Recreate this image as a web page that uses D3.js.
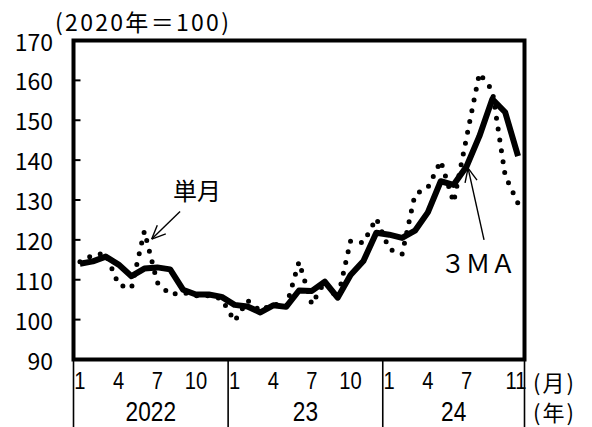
<!DOCTYPE html>
<html>
<head>
<meta charset="utf-8">
<script src="https://cdn.jsdelivr.net/npm/d3@7"></script>
<style>
  body { margin: 0; background: #fff; }
  svg text { font-family: "Noto Sans CJK JP", sans-serif; fill: #000; }
  svg text.axis-digit { font-family: "Liberation Sans", "Noto Sans CJK JP", sans-serif; }
</style>
</head>
<body>
<svg id="chart"></svg>
<script>
// months Jan 2022 - Nov 2024
const periods = [
    '2022/1', '2022/2', '2022/3', '2022/4', '2022/5', '2022/6', '2022/7', '2022/8', '2022/9', '2022/10', '2022/11', '2022/12',
    '2023/1', '2023/2', '2023/3', '2023/4', '2023/5', '2023/6', '2023/7', '2023/8', '2023/9', '2023/10', '2023/11', '2023/12',
    '2024/1', '2024/2', '2024/3', '2024/4', '2024/5', '2024/6', '2024/7', '2024/8', '2024/9', '2024/10', '2024/11'
];

// 単月 (dotted)
const monthlyValues = [
    114.5, 116.2, 116.6, 108.7, 107.9, 122.2, 109.3, 106.3, 106.8, 106.0, 106.0, 105.2,
    99.6, 104.8, 102.2, 104.0, 103.2, 114.5, 103.8, 109.6, 105.2, 119.7, 119.3, 125.4,
    117.7, 116.4, 131.4, 133.1, 139.8, 129.4, 145.6, 161.8, 157.5, 136.1, 129.1
];

// 3MA (solid)
const ma3Values = [
    114.0, 114.6, 115.8, 113.8, 110.9, 112.8, 113.1, 112.6, 107.5, 106.3, 106.3, 105.7,
    103.7, 103.3, 101.8, 103.6, 103.2, 107.3, 107.2, 109.5, 105.5, 111.2, 114.7, 121.8,
    121.3, 120.5, 122.3, 126.9, 134.7, 133.8, 138.4, 146.0, 155.3, 152.0, 141.0
];

const monthTicks = ['2022/1', '2022/4', '2022/7', '2022/10', '2023/1', '2023/4', '2023/7', '2023/10', '2024/1', '2024/4', '2024/7', '2024/11'];
const monthTickLabels = ['1', '4', '7', '10', '1', '4', '7', '10', '1', '4', '7', '11'];
const years = ['2022', '2023', '2024'];
const yearLabels = ['2022', '23', '24'];
const yTicks = [90, 100, 110, 120, 130, 140, 150, 160, 170];

class IndexChart {

    constructor(_config) {
        this.config = {
            parentElement: _config.parentElement,
            containerWidth: 592,
            containerHeight: 427,
            plot: { left: 73.5, right: 524.5, top: 40.5, bottom: 359.5 },
            fontSize: 23,
            // the x axis labels use a narrow face, squeeze the glyphs
            squeeze: 0.84
        }
        this.initVis();
    }

    initVis() {
        let vis = this;
        let p = vis.config.plot;

        vis.svg = d3.select(vis.config.parentElement)
            .attr('width', vis.config.containerWidth)
            .attr('height', vis.config.containerHeight);

        vis.xScale = d3.scalePoint()
            .domain(periods)
            .range([p.left, p.right])
            .padding(0.5);

        vis.yScale = d3.scaleLinear()
            .domain([90, 170])
            .range([p.bottom, p.top]);

        // fractional month position, used for the annotations
        vis.xIndex = d3.scaleLinear()
            .domain([0, periods.length - 1])
            .range([vis.xScale(periods[0]), vis.xScale(periods[periods.length - 1])]);

        vis.renderVis();
    }

    renderVis() {
        let vis = this;
        let p = vis.config.plot;
        let step = vis.xScale.step();
        let sq = vis.config.squeeze;

        // annotation arrows (under the lines)
        vis.drawArrow({ i: 7.77, v: 127.1 }, { i: 5.57, v: 120.2 });
        vis.drawArrow({ i: 31.36, v: 120.0 }, { i: 30.12, v: 138.0 });

        vis.svg.append('text')
            .attr('x', vis.xIndex(9.09))
            .attr('y', vis.yScale(132.7))
            .attr('text-anchor', 'middle')
            .attr('dominant-baseline', 'central')
            .attr('font-size', 24)
            .text('単月');

        vis.svg.append('text')
            .attr('x', vis.xIndex(30.89))
            .attr('y', vis.yScale(114.5))
            .attr('text-anchor', 'middle')
            .attr('dominant-baseline', 'central')
            .attr('font-size', 25)
            .text('３ＭＡ');

        let line = d3.line()
            .x((d, i) => vis.xScale(periods[i]))
            .y(d => vis.yScale(d));

        vis.svg.append('path')
            .datum(ma3Values)
            .attr('d', line)
            .attr('fill', 'none')
            .attr('stroke', '#000')
            .attr('stroke-width', 6)
            .attr('stroke-linejoin', 'round');

        vis.svg.append('path')
            .datum(monthlyValues)
            .attr('d', line)
            .attr('fill', 'none')
            .attr('stroke', '#000')
            .attr('stroke-width', 5)
            .attr('stroke-linecap', 'round')
            .attr('stroke-dasharray', '0 11');

        // frame
        vis.svg.append('rect')
            .attr('x', p.left)
            .attr('y', p.top)
            .attr('width', p.right - p.left)
            .attr('height', p.bottom - p.top)
            .attr('fill', 'none')
            .attr('stroke', '#000')
            .attr('stroke-width', 4);

        // y axis, ticks pointing inward
        vis.svg.selectAll('.y-tick')
            .data(yTicks.slice(1, -1))
            .join('line')
            .attr('class', 'y-tick')
            .attr('x1', p.left)
            .attr('x2', p.left + 7)
            .attr('y1', d => vis.yScale(d))
            .attr('y2', d => vis.yScale(d))
            .attr('stroke', '#000')
            .attr('stroke-width', 2);

        vis.svg.selectAll('.y-label')
            .data(yTicks)
            .join('text')
            .attr('class', 'y-label')
            .attr('x', 53)
            .attr('y', d => vis.yScale(d))
            .attr('text-anchor', 'end')
            .attr('dominant-baseline', 'central')
            .attr('font-size', vis.config.fontSize)
            .text(d => d);

        vis.svg.append('text')
            .attr('x', 55)
            .attr('y', 21)
            .attr('dominant-baseline', 'central')
            .attr('font-size', 23)
            .attr('letter-spacing', 2.3)
            .text('(2020年＝100)');

        // year separators below the frame
        let bounds = [p.left];
        years.forEach(y => {
            let last = periods.filter(m => m.startsWith(y)).slice(-1)[0];
            bounds.push(vis.xScale(last) + step / 2);
        });

        vis.svg.selectAll('.year-sep')
            .data(bounds)
            .join('line')
            .attr('class', 'year-sep')
            .attr('x1', d => d)
            .attr('x2', d => d)
            .attr('y1', p.bottom)
            .attr('y2', vis.config.containerHeight)
            .attr('stroke', '#000')
            .attr('stroke-width', 1.6);

        vis.svg.selectAll('.month-label')
            .data(monthTicks)
            .join('text')
            .attr('class', 'month-label axis-digit')
            .attr('transform', (d, i) => {
                let x = vis.xScale(d) - (i === monthTicks.length - 1 ? 2 : 0);
                return `translate(${x},381) scale(${sq},1)`;
            })
            .attr('text-anchor', 'middle')
            .attr('dominant-baseline', 'central')
            .attr('font-size', 24)
            .text((d, i) => monthTickLabels[i]);

        vis.svg.selectAll('.year-label')
            .data(years)
            .join('text')
            .attr('class', 'year-label axis-digit')
            .attr('transform', (d, i) => `translate(${(bounds[i] + bounds[i + 1]) / 2},411) scale(${sq},1)`)
            .attr('text-anchor', 'middle')
            .attr('dominant-baseline', 'central')
            .attr('font-size', 27)
            .text((d, i) => yearLabels[i]);

        vis.svg.append('text')
            .attr('x', 533)
            .attr('y', 381)
            .attr('dominant-baseline', 'central')
            .attr('font-size', 22)
            .attr('letter-spacing', 2)
            .text('(月)');

        vis.svg.append('text')
            .attr('x', 533)
            .attr('y', 411)
            .attr('dominant-baseline', 'central')
            .attr('font-size', 22)
            .attr('letter-spacing', 2)
            .text('(年)');
    }

    // thin arrow with an open head at "to"
    drawArrow(from, to) {
        let vis = this;
        let x1 = vis.xIndex(from.i), y1 = vis.yScale(from.v);
        let x2 = vis.xIndex(to.i), y2 = vis.yScale(to.v);
        let angle = Math.atan2(y1 - y2, x1 - x2);
        let headLen = 15, spread = 0.42;

        let g = vis.svg.append('g')
            .attr('stroke', '#000')
            .attr('stroke-width', 1.4)
            .attr('fill', 'none');

        g.append('line')
            .attr('x1', x1).attr('y1', y1)
            .attr('x2', x2).attr('y2', y2);

        [-spread, spread].forEach(s => {
            g.append('line')
                .attr('x1', x2).attr('y1', y2)
                .attr('x2', x2 + headLen * Math.cos(angle + s))
                .attr('y2', y2 + headLen * Math.sin(angle + s));
        });
    }
}

let chart = new IndexChart({ parentElement: '#chart' });
</script>
</body>
</html>
